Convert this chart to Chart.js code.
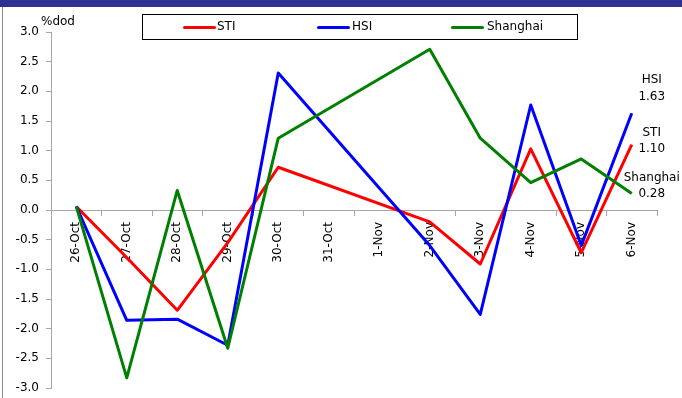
<!DOCTYPE html>
<html>
<head>
<meta charset="utf-8">
<script src="https://cdn.jsdelivr.net/npm/chart.js@4"></script>
<style>
  html, body { margin: 0; padding: 0; background: #fff; }
  #wrap { position: relative; width: 682px; height: 398px; overflow: hidden; font-family: "DejaVu Sans", sans-serif; }
  #band { position: absolute; left: 0; top: 0; width: 682px; height: 7px; background: #2e3192; }
  #edge { position: absolute; left: 2px; top: 7px; width: 1px; height: 391px; background: #8c8c8c; }
  #unit { position: absolute; left: 41px; top: 14px; font-size: 12px; color: #000; }
  #legend { position: absolute; left: 142px; top: 14px; width: 436px; height: 26px; box-sizing: border-box; border: 1px solid #000; background: #fff; }
  .sw { position: absolute; top: 11px; width: 33px; height: 3px; border-radius: 2px; }
  .lt { position: absolute; top: 4px; font-size: 12px; color: #000; }
</style>
</head>
<body>
<div id="wrap">
  <canvas id="c" width="682" height="398"></canvas>
  <div id="band"></div>
  <div id="edge"></div>
  <div id="unit">%dod</div>
  <div id="legend"></div>
</div>
<script>
// categories (trading days; weekend has no data)
const days = ['26-Oct', '27-Oct', '28-Oct', '29-Oct', '30-Oct', '31-Oct', '1-Nov', '2-Nov', '3-Nov', '4-Nov', '5-Nov', '6-Nov'];
const sti = [0.06, -0.8, -1.69, -0.55, 0.72, null, null, -0.2, -0.91, 1.03, -0.72, 1.10];
const hsi = [0.06, -1.86, -1.84, -2.28, 2.31, null, null, -0.6, -1.76, 1.77, -0.6, 1.63];
const shanghai = [0.06, -2.83, 0.33, -2.33, 1.21, null, null, 2.71, 1.21, 0.46, 0.86, 0.28];
const yTicks = [-3, -2.5, -2, -1.5, -1, -0.5, 0, 0.5, 1, 1.5, 2, 2.5, 3];

const names = ['STI', 'HSI', 'Shanghai'];
const colors = ['#ff0000', '#0000ff', '#008000'];
const series = [sti, hsi, shanghai];

// legend, drawn as html
const legendPos = [[40, 74], [174, 209], [308, 344]];
const lg = document.getElementById('legend');
names.forEach((n, i) => {
    const s = document.createElement('div');
    s.className = 'sw';
    s.style.left = legendPos[i][0] + 'px';
    s.style.background = colors[i];
    lg.appendChild(s);
    const t = document.createElement('div');
    t.className = 'lt';
    t.style.left = legendPos[i][1] + 'px';
    t.textContent = n;
    lg.appendChild(t);
});

// where the name / value of the last point sit, relative to that point
const labelShift = { STI: [-12, 4], HSI: [-33, -16], Shanghai: [-16, 0] };

const endLabels = {
    id: 'endLabels',
    afterDatasetsDraw(chart) {
        const ctx = chart.ctx;
        const xs = chart.scales.x, ys = chart.scales.y;
        ctx.save();
        ctx.font = '12px "DejaVu Sans"';
        ctx.fillStyle = '#000';
        ctx.textAlign = 'center';
        ctx.textBaseline = 'middle';
        chart.data.datasets.forEach(ds => {
            const last = ds.data.length - 1;
            const v = ds.data[last];
            const px = xs.getPixelForValue(last) + 20;
            const py = ys.getPixelForValue(v);
            const sh = labelShift[ds.label];
            ctx.fillText(ds.label, px, py + sh[0]);
            ctx.fillText(v.toFixed(2), px, py + sh[1]);
        });
        ctx.restore();
    }
};

const axisGrey = '#a6a6a6';
const font = { family: 'DejaVu Sans', size: 12 };
const noPad = s => { s.paddingTop = 0; s.paddingBottom = 0; s.paddingLeft = 0; s.paddingRight = 0; };

new Chart(document.getElementById('c'), {
    type: 'line',
    data: {
        labels: days,
        datasets: names.map((n, i) => ({
            label: n,
            data: series[i],
            borderColor: colors[i],
            backgroundColor: colors[i],
            borderWidth: 3,
            pointRadius: 0,
            tension: 0,
            spanGaps: true,
            borderJoinStyle: 'round',
            order: 3 - i
        }))
    },
    options: {
        responsive: false,
        animation: false,
        layout: { padding: { top: 32, right: 25, bottom: 10, left: 0 } },
        plugins: { legend: { display: false }, tooltip: { enabled: false } },
        scales: {
            x: {
                type: 'category',
                position: { y: 0 },
                offset: true,
                afterFit: s => { noPad(s); s.height = 0; },
                grid: { offset: true, drawOnChartArea: false, drawTicks: true, tickLength: 5, color: axisGrey },
                border: { color: axisGrey, width: 1 },
                ticks: { minRotation: 90, maxRotation: 90, autoSkip: false, padding: 7, color: '#000', font: font }
            },
            y: {
                min: -3,
                max: 3,
                afterBuildTicks: s => { s.ticks = yTicks.map(v => ({ value: v })); },
                afterFit: s => { noPad(s); s.width = 51; },
                grid: { drawOnChartArea: false, drawTicks: true, tickLength: 5, color: axisGrey },
                border: { color: axisGrey, width: 1 },
                ticks: { padding: 7, color: '#000', font: font, callback: v => v.toFixed(1) }
            }
        }
    },
    plugins: [endLabels]
});
</script>
</body>
</html>
